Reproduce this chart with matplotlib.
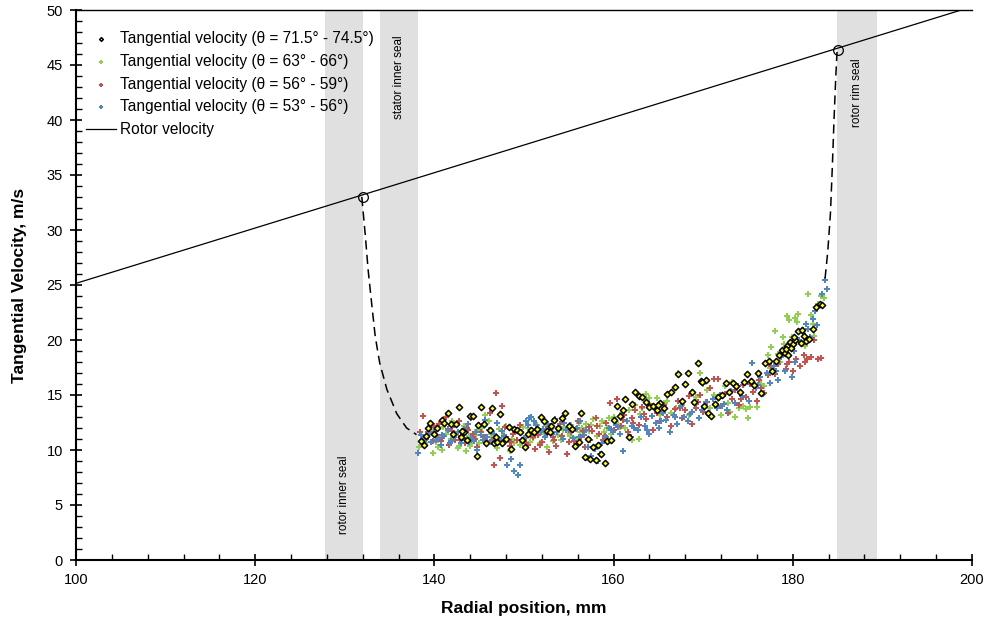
import matplotlib
matplotlib.use("Agg")
import matplotlib.pyplot as plt
from matplotlib.ticker import MultipleLocator

plt.rcParams['font.family'] = ['Liberation Sans', 'DejaVu Sans']

# ---------------- data ----------------
yel_x = [138.5, 138.8, 139.1, 139.3, 139.5, 139.9, 140.3, 140.8, 141.1, 141.5,
         141.8, 142.1, 142.4, 142.7, 143.0, 143.3, 143.6, 144.0, 144.3, 144.7,
         144.9, 145.2, 145.5, 145.8, 146.2, 146.4, 146.9, 147.3, 147.6, 148.0,
         148.3, 148.6, 148.9, 149.2, 149.5, 149.8, 150.1, 150.5, 150.8, 151.1,
         151.5, 151.9, 152.2, 152.6, 153.0, 153.4, 153.8, 154.2, 154.6, 155.0,
         155.4, 155.7, 156.1, 156.4, 156.8, 157.1, 157.4, 157.7, 158.0, 158.3,
         158.6, 159.0, 159.3, 159.7, 160.0, 160.4, 160.7, 161.0, 161.3, 161.7,
         162.0, 162.4, 162.8, 163.2, 163.6, 164.0, 164.4, 164.8, 165.2, 165.6,
         166.0, 166.4, 166.8, 167.2, 167.6, 168.0, 168.3, 168.7, 169.0, 169.4,
         169.7, 170.1, 170.5, 170.9, 171.3, 171.7, 172.1, 172.5, 172.9, 173.3,
         173.7, 174.1, 174.5, 174.9, 175.3, 175.7, 176.1, 176.5, 176.9, 177.3,
         177.7, 178.1, 178.5, 178.8, 179.1, 179.4, 179.7, 180.0, 180.3, 180.6,
         180.9, 181.2, 181.5, 181.8, 182.2, 182.6, 183.0, 183.3, 179.2, 179.5,
         179.8, 180.1, 181.0, 170.3, 169.9, 146.6, 147.0, 143.1, 152.9, 165.0]
yel_y = [10.8, 10.5, 11.3, 12.0, 12.5, 11.5, 12.0, 12.7, 12.5, 13.4,
         12.4, 11.5, 12.4, 13.9, 11.2, 11.6, 10.9, 13.1, 13.1, 9.5,
         12.3, 13.9, 12.4, 10.6, 11.8, 13.8, 11.2, 13.3, 10.6, 11.0,
         12.1, 10.1, 11.9, 11.8, 11.6, 10.9, 10.3, 11.5, 11.8, 11.6,
         11.9, 13.0, 12.6, 11.7, 12.2, 12.7, 12.0, 12.9, 13.4, 12.2,
         11.9, 10.4, 10.7, 13.4, 9.4, 11.0, 9.2, 10.3, 9.1, 10.5,
         9.6, 8.8, 10.8, 10.9, 12.7, 14.0, 13.1, 13.6, 14.6, 11.2,
         14.2, 15.3, 14.9, 14.8, 14.4, 13.9, 14.0, 13.6, 14.3, 13.8,
         15.1, 15.3, 15.7, 16.9, 14.5, 16.0, 17.0, 15.3, 14.4, 17.9,
         16.3, 14.0, 13.4, 13.1, 14.2, 14.8, 15.0, 16.1, 15.3, 16.1,
         15.8, 15.3, 16.2, 16.9, 16.3, 15.9, 17.0, 15.2, 17.9, 18.1,
         17.2, 18.1, 18.6, 19.1, 18.8, 19.5, 19.8, 19.6, 20.0, 20.8,
         19.7, 20.4, 19.9, 20.1, 21.0, 23.0, 23.3, 23.2, 19.2, 18.6,
         19.3, 20.3, 20.9, 16.4, 16.2, 10.6, 10.7, 11.7, 11.6, 14.1]

grn_x = [138.3, 138.7, 139.0, 139.4, 139.8, 140.2, 140.6, 140.9, 141.3, 141.7,
         142.0, 142.4, 142.8, 143.1, 143.5, 143.9, 144.2, 144.6, 145.0, 145.3,
         145.7, 146.1, 146.5, 146.8, 147.2, 147.6, 148.0, 148.4, 148.7, 149.1,
         149.5, 149.9, 150.3, 150.7, 151.0, 151.4, 151.8, 152.2, 152.6, 153.0,
         153.4, 153.8, 154.1, 154.5, 154.9, 155.3, 155.7, 156.1, 156.5, 156.9,
         157.3, 157.7, 158.1, 158.5, 158.9, 159.3, 159.7, 160.1, 160.5, 160.9,
         161.3, 161.7, 162.1, 162.4, 162.8, 163.2, 163.6, 164.0, 164.4, 164.8,
         165.2, 165.6, 166.0, 166.4, 166.8, 167.2, 167.6, 168.0, 168.4, 168.8,
         169.2, 169.6, 170.0, 170.4, 170.8, 171.2, 171.6, 172.0, 172.4, 172.8,
         173.2, 173.6, 174.0, 174.4, 174.8, 175.2, 175.6, 176.0, 176.4, 176.8,
         177.2, 177.6, 178.0, 178.3, 178.6, 179.0, 179.3, 179.6, 179.9, 180.2,
         180.5, 180.8, 181.1, 181.4, 181.7, 182.0, 182.4, 182.8, 183.2, 183.5,
         138.9, 139.6, 140.4, 141.0, 141.9, 142.6, 143.3, 144.0, 144.8, 145.5,
         146.3, 147.0, 147.8, 148.9, 149.7, 150.5, 151.6, 152.4, 153.2, 154.3,
         155.1, 156.3, 157.5, 158.7, 159.5, 160.7, 163.0, 165.0, 167.0, 171.4,
         173.0, 175.0, 177.4, 178.9, 180.6, 182.2]
grn_y = [10.3, 11.0, 10.6, 11.4, 9.7, 10.7, 11.2, 10.0, 11.5, 10.6,
         12.6, 11.4, 10.4, 11.0, 9.9, 11.3, 10.7, 11.4, 10.6, 12.0,
         13.2, 12.6, 11.1, 10.6, 11.9, 10.9, 12.2, 9.9, 11.0, 11.8,
         10.5, 12.1, 11.3, 10.7, 11.1, 12.3, 10.6, 11.5, 10.3, 11.9,
         12.6, 11.4, 10.9, 12.1, 11.6, 12.3, 11.0, 12.5, 12.0, 12.4,
         11.7, 12.8, 11.3, 12.2, 11.6, 12.0, 11.5, 13.0, 12.4, 13.4,
         12.0, 13.6, 10.9, 14.1, 11.0, 13.8, 15.1, 14.7, 14.0, 14.7,
         13.2, 14.3, 14.5, 13.4, 15.6, 17.0, 14.1, 16.0, 13.2, 15.3,
         14.8, 17.0, 16.0, 15.5, 13.8, 15.0, 14.6, 13.2, 15.8, 14.3,
         16.2, 13.0, 13.8, 14.0, 13.7, 13.9, 15.3, 13.9, 16.0, 15.8,
         18.6, 19.4, 20.8, 18.7, 18.0, 19.6, 22.2, 21.8, 20.3, 22.0,
         21.6, 19.8, 20.6, 19.5, 24.2, 22.3, 20.4, 23.3, 24.0, 23.8,
         10.9, 11.8, 10.3, 12.1, 11.0, 10.2, 12.2, 10.4, 11.8, 10.9,
         11.5, 10.2, 11.4, 10.6, 11.6, 12.0, 11.5, 12.2, 10.8, 11.8,
         11.3, 11.6, 12.3, 12.6, 12.9, 12.1, 13.3, 14.0, 13.8, 14.2,
         13.5, 12.9, 17.5, 20.3, 22.4, 21.5]

red_x = [138.4, 138.7, 139.1, 139.5, 139.8, 140.2, 140.5, 140.9, 141.3, 141.6,
         142.0, 142.3, 142.7, 143.0, 143.4, 143.8, 144.1, 144.5, 144.8, 145.2,
         145.5, 145.9, 146.2, 146.6, 146.9, 147.3, 147.6, 148.0, 148.4, 148.8,
         149.2, 149.6, 150.0, 150.4, 150.8, 151.2, 151.6, 152.0, 152.4, 152.8,
         153.2, 153.6, 154.0, 154.4, 154.8, 155.2, 155.6, 156.0, 156.4, 156.8,
         157.2, 157.6, 158.0, 158.4, 158.8, 159.2, 159.6, 160.0, 160.4, 160.8,
         161.2, 161.6, 162.0, 162.4, 162.8, 163.2, 163.6, 164.0, 164.4, 164.8,
         165.2, 165.6, 166.0, 166.4, 166.8, 167.2, 167.6, 168.0, 168.4, 168.8,
         169.2, 169.6, 170.0, 170.4, 170.8, 171.2, 171.6, 172.0, 172.4, 172.8,
         173.2, 173.6, 174.0, 174.4, 174.8, 175.2, 175.6, 176.0, 176.4, 176.8,
         177.2, 177.6, 178.0, 178.4, 178.8, 179.2, 179.6, 180.0, 180.4, 180.8,
         181.2, 181.6, 182.0, 182.4, 182.8, 183.2,
         138.6, 139.3, 140.0, 140.7, 141.5, 142.2, 142.9, 143.6, 144.3, 145.0,
         145.7, 146.4, 147.1, 147.9, 148.6, 149.4, 150.2, 151.0, 151.8, 152.6,
         153.4, 154.2, 155.0, 155.8, 156.6, 157.4, 158.2, 159.0, 161.0, 162.2,
         163.4, 165.4, 167.4, 169.4, 171.8, 174.2, 176.2, 179.4, 181.4]
red_y = [11.6, 13.1, 11.0, 12.1, 10.8, 11.4, 12.4, 11.1, 13.0, 10.5,
         11.7, 10.9, 12.6, 11.3, 10.6, 11.8, 12.9, 11.0, 10.3, 11.6,
         12.4, 10.8, 13.4, 8.6, 15.2, 9.3, 14.0, 11.2, 10.4, 11.5,
         10.9, 12.3, 11.0, 10.5, 11.8, 10.1, 11.4, 10.7, 11.9, 9.8,
         11.2, 10.4, 12.4, 11.0, 9.6, 11.6, 10.8, 12.6, 11.2, 10.3,
         12.1, 11.7, 12.9, 11.5, 10.9, 12.5, 14.3, 11.8, 14.6, 12.2,
         13.2, 11.6, 12.9, 13.6, 12.3, 13.9, 12.8, 14.2, 11.8, 13.4,
         12.6, 14.1, 13.0, 12.2, 13.7, 14.5, 12.9, 13.6, 14.9, 12.4,
         13.8, 15.0, 13.5, 14.4, 15.6, 16.5, 16.5, 14.0, 15.1, 13.4,
         14.6, 15.5, 14.1, 15.9, 14.8, 16.0, 15.3, 14.5, 15.6, 15.2,
         16.8, 17.6, 16.9, 17.8, 18.6, 17.4, 18.0, 17.2, 18.3, 17.6,
         18.6, 18.3, 18.5, 20.0, 18.3, 18.4,
         10.9, 11.6, 12.2, 10.8, 11.9, 12.3, 10.9, 12.0, 11.5, 12.3,
         11.2, 10.9, 10.8, 12.1, 10.7, 11.7, 10.6, 11.2, 10.5, 11.5,
         10.9, 11.3, 10.7, 11.9, 11.7, 10.9, 12.2, 11.3, 12.7, 12.5,
         13.3, 13.5, 13.8, 14.4, 14.7, 14.6, 16.4, 17.8, 18.0]

blu_x = [138.2, 138.5, 138.9, 139.2, 139.6, 140.0, 140.4, 140.7, 141.1, 141.5,
         141.9, 142.2, 142.6, 143.0, 143.3, 143.7, 144.1, 144.4, 144.8, 145.2,
         145.6, 145.9, 146.3, 146.7, 147.0, 147.4, 147.8, 148.1, 148.5, 148.9,
         149.3, 149.6, 150.0, 150.4, 150.8, 151.1, 151.5, 151.9, 152.3, 152.7,
         153.1, 153.5, 153.9, 154.3, 154.7, 155.1, 155.5, 155.9, 156.3, 156.7,
         157.1, 157.5, 157.9, 158.3, 158.7, 159.1, 159.5, 159.9, 160.3, 160.7,
         161.1, 161.5, 161.9, 162.3, 162.7, 163.1, 163.5, 163.9, 164.3, 164.7,
         165.1, 165.5, 165.9, 166.3, 166.7, 167.1, 167.5, 167.9, 168.3, 168.7,
         169.1, 169.5, 169.9, 170.3, 170.7, 171.1, 171.5, 171.9, 172.3, 172.7,
         173.1, 173.5, 173.9, 174.3, 174.7, 175.1, 175.5, 175.9, 176.3, 176.7,
         177.1, 177.5, 177.9, 178.3, 178.7, 179.1, 179.5, 179.9, 180.3, 180.7,
         181.1, 181.5, 181.9, 182.3, 182.7, 183.0, 183.3, 183.6, 183.8,
         138.7, 139.4, 140.2, 140.9, 141.7, 142.4, 143.2, 143.9, 144.6, 145.4,
         146.1, 146.9, 147.6, 150.2, 150.6, 151.3, 152.1, 152.9, 153.7, 154.5,
         155.3, 156.1, 156.9, 158.5, 159.7, 160.5, 162.1, 163.7, 165.3, 166.9,
         168.5, 170.1, 172.1, 174.1, 176.1, 178.1, 180.1, 181.7, 182.5]
blu_y = [9.7, 11.4, 10.9, 11.2, 10.7, 11.6, 11.0, 10.5, 11.3, 11.8,
         10.8, 11.2, 11.6, 10.6, 11.9, 12.4, 11.1, 10.8, 10.0, 11.4,
         12.7, 11.2, 10.7, 11.5, 12.5, 10.9, 11.3, 8.6, 9.2, 8.1,
         7.7, 8.6, 11.1, 12.3, 13.0, 12.6, 11.9, 11.6, 11.2, 12.4,
         11.5, 12.8, 12.1, 11.0, 11.8, 12.3, 11.1, 12.0, 12.6, 11.4,
         10.3, 9.5, 10.1, 9.0, 10.6, 11.2, 12.0, 11.6, 12.3, 11.5,
         9.9, 12.6, 11.2, 12.0, 11.8, 13.0, 12.2, 11.5, 13.1, 12.5,
         12.0, 13.4, 12.7, 11.6, 13.2, 12.4, 14.0, 13.0, 12.6, 13.5,
         14.2, 12.9, 13.6, 14.4, 13.2, 14.6, 13.8, 15.0, 14.2, 13.6,
         15.4, 14.3, 15.8, 14.9, 16.2, 14.5, 17.9, 15.6, 16.6, 15.1,
         17.0, 16.1, 17.6, 16.4, 18.5, 17.2, 19.4, 16.6, 18.0, 20.0,
         20.9, 21.5, 20.3, 21.9, 21.4, 23.2, 24.2, 25.5, 24.6,
         11.0, 11.5, 10.9, 11.4, 10.6, 11.5, 11.1, 10.7, 11.6, 10.9,
         11.8, 10.8, 11.7, 12.6, 12.9, 12.3, 11.9, 12.0, 11.6, 12.5,
         11.8, 11.2, 11.8, 9.6, 11.9, 12.1, 12.2, 11.8, 12.6, 13.0,
         13.3, 13.9, 14.0, 15.3, 15.9, 17.2, 19.0, 21.0, 22.6]

rotor_x = [100, 200]
rotor_y = [25.15, 50.3]

fit_left_x = [131.9, 132.3, 132.6, 133.0, 133.4, 133.9, 134.7, 135.8, 136.9, 138.0]
fit_left_y = [33.0, 29.4, 26.4, 23.3, 20.3, 17.9, 15.5, 13.3, 12.0, 11.4]
fit_right_x = [183.6, 183.9, 184.2, 184.4, 184.6, 184.8, 184.95]
fit_right_y = [25.6, 28.0, 31.5, 35.5, 40.0, 44.0, 46.4]

pts_x = [132.0, 185.0]
pts_y = [33.0, 46.4]

bands = [(127.8, 132.0), (133.9, 138.2), (184.9, 189.4)]
band_labels = ["rotor inner seal", "stator inner seal", "rotor rim seal"]
band_label_y = [5.9, 43.9, 42.5]

labels = ["Tangential velocity (θ = 71.5° - 74.5°)",
          "Tangential velocity (θ = 63° - 66°)",
          "Tangential velocity (θ = 56° - 59°)",
          "Tangential velocity (θ = 53° - 56°)",
          "Rotor velocity"]

# ---------------- figure ----------------
fig = plt.figure(figsize=(9.88, 6.24), dpi=100)
ax = fig.add_axes([76/988, 1-560/624, (972-76)/988, (560-10)/624])

for (a, b), lab, ly in zip(bands, band_labels, band_label_y):
    ax.axvspan(a, b, color='#e0e0e0', lw=0, zorder=0)
    ax.text((a+b)/2, ly, lab, rotation=90, ha='center', va='center',
            fontsize=8.5, zorder=1)

h_g = ax.scatter(grn_x, grn_y, marker='P', s=20, color='#8fd14f', lw=0, zorder=3)
h_r = ax.scatter(red_x, red_y, marker='P', s=20, color='#c9504d', lw=0, zorder=3)
h_b = ax.scatter(blu_x, blu_y, marker='P', s=20, color='#4f86c6', lw=0, zorder=3)
h_y = ax.scatter(yel_x, yel_y, marker='D', s=10, facecolor='#ffff00',
                 edgecolor='black', lw=1.1, zorder=4)

h_rot, = ax.plot(rotor_x, rotor_y, color='black', lw=0.9, zorder=5)
ax.plot(fit_left_x, fit_left_y, color='black', lw=1.1, ls=(0, (6, 3.5)), zorder=5)
ax.plot(fit_right_x, fit_right_y, color='black', lw=1.1, ls=(0, (6, 3.5)), zorder=5)
ax.plot(pts_x, pts_y, ls='none', marker='o', ms=7, mfc='none', mec='black',
        mew=0.9, zorder=6)

ax.set_xlim(100, 200)
ax.set_ylim(0, 50)
ax.xaxis.set_major_locator(MultipleLocator(20))
ax.xaxis.set_minor_locator(MultipleLocator(4))
ax.yaxis.set_major_locator(MultipleLocator(5))
ax.yaxis.set_minor_locator(MultipleLocator(1))
ax.tick_params(which='major', direction='inout', length=9, width=1.2,
               labelsize=10.5, pad=5)
ax.tick_params(which='minor', direction='in', length=4, width=1)
ax.spines['right'].set_visible(False)
ax.spines['top'].set_linewidth(1.0)
ax.spines['left'].set_linewidth(1.5)
ax.spines['bottom'].set_linewidth(1.5)

ax.set_xlabel("Radial position, mm", fontsize=12.5, fontweight='bold', labelpad=10)
ax.set_ylabel("Tangential Velocity, m/s", fontsize=12.5, fontweight='bold', labelpad=14)

leg = ax.legend([h_y, h_g, h_r, h_b, h_rot], labels, loc='upper left',
                bbox_to_anchor=(0.0045, 0.973), frameon=False, fontsize=11.2,
                handlelength=1.9, handletextpad=0.3, labelspacing=0.5,
                borderaxespad=0.0, scatterpoints=1, markerscale=0.6)

fig.savefig("out.png", dpi=100)
